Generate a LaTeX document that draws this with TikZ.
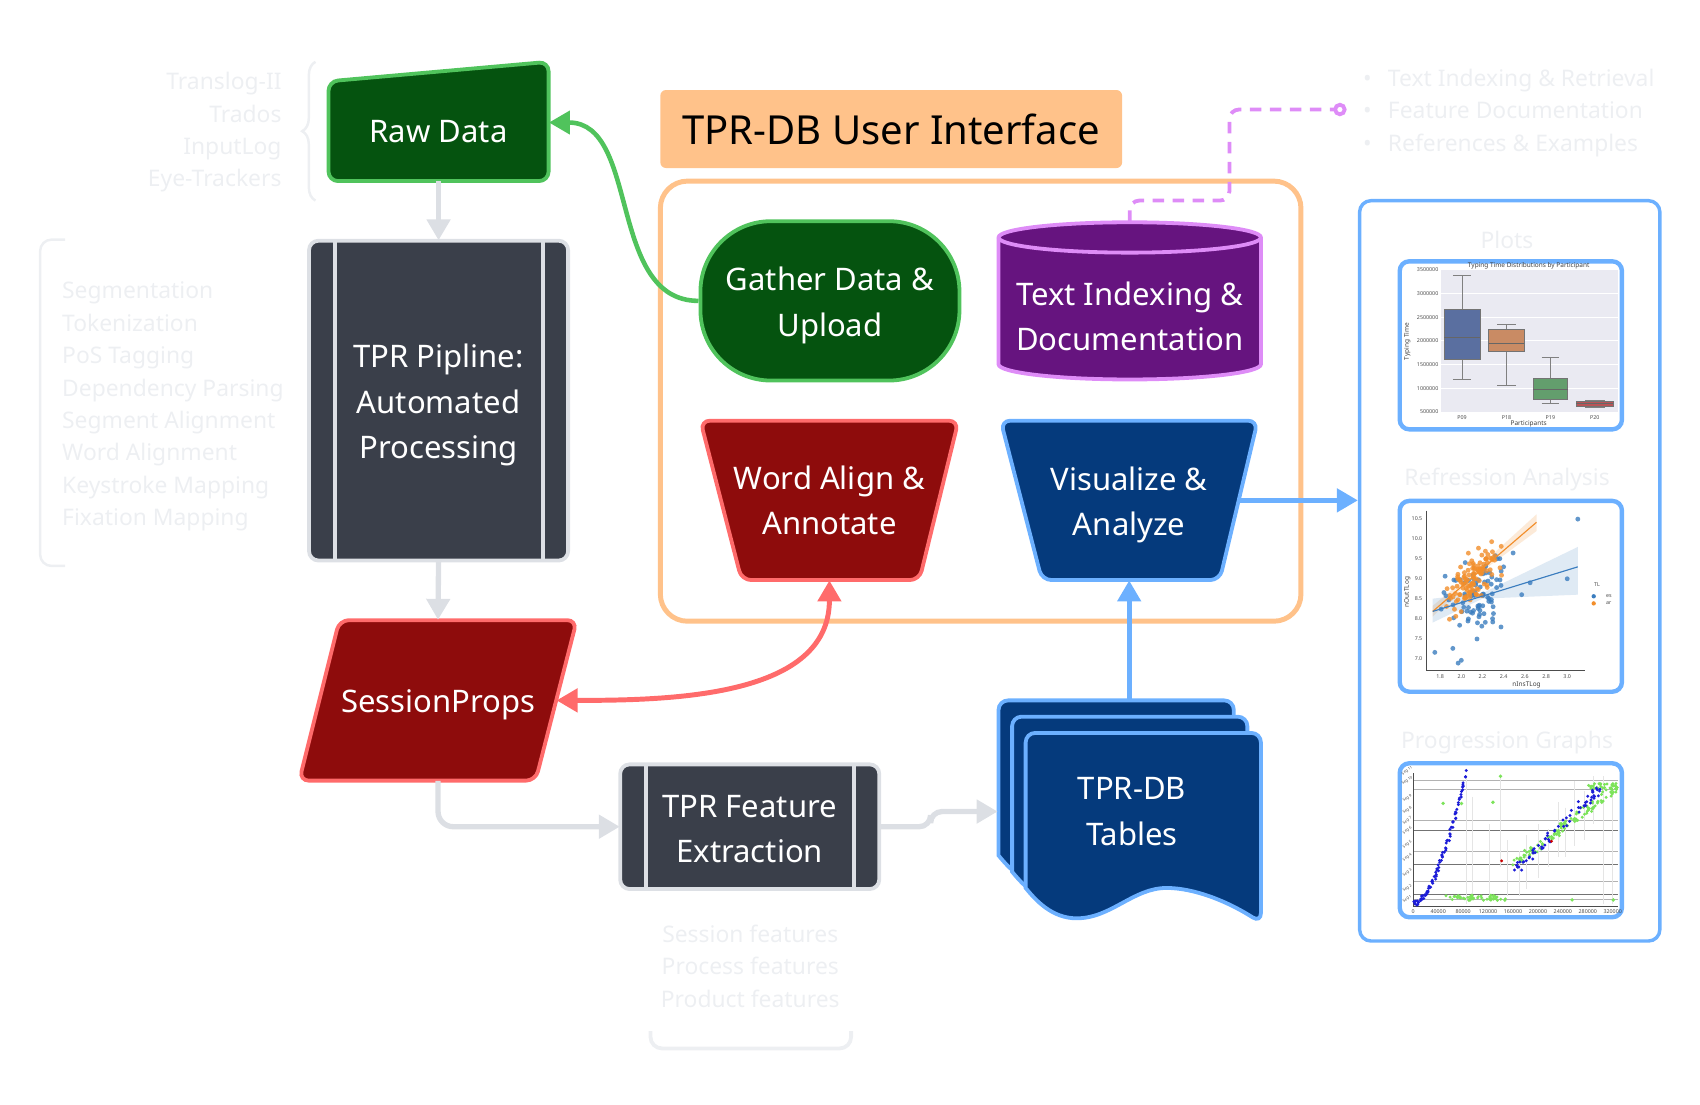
\documentclass[tikz,border=0pt]{standalone}
\usepackage{fontspec}
\setmainfont{Noto Sans}
\usetikzlibrary{arrows.meta, decorations.pathreplacing}

\definecolor{greenfill}{HTML}{05530F}
\definecolor{greenline}{HTML}{50C35C}
\definecolor{redfill}{HTML}{8E0C0C}
\definecolor{redline}{HTML}{FF6B6B}
\definecolor{slatefill}{HTML}{3A3F4A}
\definecolor{slateline}{HTML}{DDE0E5}
\definecolor{bluefill}{HTML}{053A7C}
\definecolor{blueline}{HTML}{6CB0FF}
\definecolor{violetfill}{HTML}{66147F}
\definecolor{violetline}{HTML}{DE8CF7}
\definecolor{peach}{HTML}{FFC28A}
\definecolor{linkgray}{HTML}{DCDFE4}
\definecolor{faintgray}{HTML}{EDEFF2}
\definecolor{plotbg}{HTML}{EAEAF2}
\definecolor{boxblue}{HTML}{5A6FA0}
\definecolor{boxorange}{HTML}{C98B64}
\definecolor{boxgreen}{HTML}{639E6D}
\definecolor{boxred}{HTML}{B85457}
\definecolor{dotblue}{HTML}{3B7DBF}
\definecolor{dotorange}{HTML}{F28E2B}
\definecolor{progblue}{HTML}{1C1CD8}
\definecolor{proggreen}{HTML}{7CE35A}

\tikzset{
  every node/.style={inner sep=0pt},
  flowtext/.style={text=white, align=center, font=\fontsize{16.3}{23.8}\selectfont},
  flowedge/.style={line width=2pt, rounded corners=5},
  faintlist/.style={text=faintgray, font=\fontsize{12}{17}\selectfont},
  graylink/.style={draw=linkgray, line width=2.8pt, ->},
  greenlink/.style={draw=greenline, line width=2.4pt, ->},
  redlink/.style={draw=redline, line width=2.6pt, <->},
  bluelink/.style={draw=blueline, line width=2.6pt, ->},
  docline/.style={draw=violetline, line width=2pt, dash pattern=on 6pt off 4.5pt,
    rounded corners=5, -{Circle[open, length=7pt, width=7pt]}},
  plotframe/.style={draw=blueline, fill=white, line width=2.3pt, rounded corners=5,
    minimum width=4.1cm},
  ticklabel/.style={text=black!70, font=\fontsize{2.8}{3}\selectfont},
  seglabel/.style={text=black!70, font=\fontsize{2}{2.2}\selectfont, rotate=35},
  axislabel/.style={text=black!75, font=\fontsize{3.4}{4}\selectfont},
}

\begin{document}
\begin{tikzpicture}[x=0.02cm, y=-0.02cm, >={Triangle[length=11pt, width=12pt]}]
  \useasboundingbox (0,0) rectangle (1568,1019);

  % Faint side notes.
  \node[faintlist, anchor=east, align=right] (sources) at (260,122)
    {Translog-II\\Trados\\InputLog\\Eye-Trackers};
  \draw[faintgray, line width=1.3pt, decorate, decoration={brace, amplitude=7pt}]
    (291,185) -- (291,57);
  \node[faintlist, anchor=west, align=left] (steps) at (57,375)
    {Segmentation\\Tokenization\\PoS Tagging\\Dependency Parsing\\Segment Alignment\\Word Alignment\\Keystroke Mapping\\Fixation Mapping};
  \draw[faintgray, line width=1.3pt, rounded corners=6] (60,221) -- (37,221) -- (37,522) -- (60,522);
  \node[faintlist, align=center] (features) at (692,891)
    {Session features\\Process features\\Product features};
  \draw[faintgray, line width=2pt, rounded corners=6] (600,951) -- (600,967) -- (785,967) -- (785,951);
  \node[faintlist, anchor=west, align=left] (doclist) at (1257,104)
    {\makebox[13pt][l]{•}Text Indexing \& Retrieval\\
     \makebox[13pt][l]{•}Feature Documentation\\
     \makebox[13pt][l]{•}References \& Examples};

  % User interface frame and title.
  \node[fill=peach, rounded corners=3, minimum width=8.52cm, minimum height=1.44cm,
    font=\fontsize{21}{25}\selectfont] (uititle) at (822,119) {TPR-DB User Interface};
  \node[draw=peach, line width=2.6pt, rounded corners=0.5cm, minimum width=11.82cm,
    minimum height=8.12cm] (ui) at (904.5,370) {};

  % Raw data (manual input).
  \filldraw[fill=greenfill, draw=greenline, flowedge] (303,167) -- (303,75) -- (506,57) -- (506,167) -- cycle;
  \node[flowtext, minimum width=4.06cm, minimum height=1.84cm] (raw) at (404.5,121) {Raw Data};

  % Pipeline (predefined process).
  \filldraw[fill=slatefill, draw=slateline, flowedge] (285,222) rectangle (524,517);
  \draw[slateline, line width=2pt] (309,222) -- (309,517) (501,222) -- (501,517);
  \node[flowtext, minimum width=4.78cm, minimum height=5.9cm] (pipe) at (404.5,369.5)
    {\rule{0pt}{17pt}TPR Pipline:\\Automated\\Processing};

  % Session properties (data).
  \filldraw[fill=redfill, draw=redline, flowedge] (276,720) -- (313,572) -- (532,572) -- (494,720) -- cycle;
  \node[flowtext, minimum width=4.36cm, minimum height=2.96cm] (session) at (404,646)
    {\rule{0pt}{16.5pt}SessionProps};

  % Feature extraction (predefined process).
  \filldraw[fill=slatefill, draw=slateline, flowedge] (572,705) rectangle (811,820);
  \draw[slateline, line width=2pt] (596,705) -- (596,820) (788,705) -- (788,820);
  \node[flowtext, minimum width=4.78cm, minimum height=2.3cm] (feature) at (691.5,762.5)
    {\rule{0pt}{14pt}TPR Feature\\Extraction};

  % Gather data.
  \node[flowtext, fill=greenfill, draw=greenline, line width=2pt, rounded corners=1.3cm,
    minimum width=4.78cm, minimum height=2.94cm] (gather) at (765.5,277.5)
    {\rule{0pt}{17pt}Gather Data \&\\Upload};

  % Text indexing (cylinder).
  \filldraw[fill=violetfill, draw=violetline, line width=2pt]
    (921,219) -- (921,336) arc[start angle=180, end angle=0, x radius=121, y radius=14]
    -- (1163,219) arc[start angle=0, end angle=-180, x radius=121, y radius=14] -- cycle;
  \draw[violetline, line width=2pt] (921,219) arc[start angle=180, end angle=0, x radius=121, y radius=14];
  \node[flowtext, minimum width=4.84cm, minimum height=3.48cm] (textidx) at (1042,292)
    {Text Indexing \&\\Documentation};

  % Word alignment and visualisation (manual operations).
  \filldraw[fill=redfill, draw=redline, flowedge] (646,388) -- (884,388) -- (848,535) -- (684,535) -- cycle;
  \node[flowtext, minimum width=4.0cm, minimum height=2.94cm] (align) at (765,461.5) {Word Align \&\\Annotate};
  \filldraw[fill=bluefill, draw=blueline, flowedge] (923,388) -- (1160,388) -- (1125,535) -- (961,535) -- cycle;
  \node[flowtext, minimum width=4.04cm, minimum height=2.94cm] (visual) at (1041.5,461.5)
    {\rule{0pt}{17pt}Visualize \&\\Analyze};

  % Tables (stacked documents).
  \foreach \dx/\dy in {0/0, 12.5/15, 25/30}
    \filldraw[fill=bluefill, draw=blueline, line width=2pt, shift={(\dx,\dy)}]
      (921,789) [rounded corners=5] -- (921,646) -- (1138,646) -- (1138,821) [sharp corners]
      .. controls (1105,800) and (1075,789) .. (1051,789)
      .. controls (1020,789) and (1000,817) .. (968,817)
      .. controls (945,817) and (930,800) .. (921,789) -- cycle;
  \node[flowtext, minimum width=4.94cm, minimum height=4.1cm] (tables) at (1044,748.5) {TPR-DB\\Tables};

  % Output panel.
  \node[draw=blueline, line width=1.8pt, rounded corners=6, minimum width=5.54cm,
    minimum height=13.66cm] (panel) at (1392.5,526.5) {};
  \node[faintlist] (plotlbl) at (1390,221) {Plots};
  \node[faintlist] (reglbl) at (1390,442) {Refression Analysis};
  \node[faintlist] (proglbl) at (1390,685) {Progression Graphs};

  % Box plot.
  \node[plotframe, minimum height=3.1cm] (boxframe) at (1393.5,318.5) {};
  \fill[plotbg] (1329,249) rectangle (1492,380);
  \begin{scope}[shift={(0,380)}, y=0.874cm, shift={(0,-0.5)}]
    \foreach \val in {1,1.5,2,2.5,3,3.5}
      \draw[white, line width=0.5pt] (1329,\val) -- (1492,\val);
    \foreach \val/\lab in {0.5/500000, 1/1000000, 1.5/1500000, 2/2000000, 2.5/2500000, 3/3000000, 3.5/3500000}
      \node[ticklabel, anchor=east] at (1327,\val) {\lab};
    \foreach \xl/\xr/\lo/\qa/\me/\qb/\hi/\col/\lbl in
      {1332/1365/1.18/1.62/2.08/2.67/3.38/boxblue/P09, 1373/1406/1.07/1.77/1.95/2.25/2.35/boxorange/P18,
       1414/1446/0.67/0.76/0.98/1.22/1.66/boxgreen/P19, 1454/1488/0.60/0.62/0.67/0.73/0.75/boxred/P20}{
      \draw[gray, line width=0.5pt] ({(\xl+\xr)/2},\lo) -- ({(\xl+\xr)/2},\hi);
      \draw[gray, line width=0.5pt] ({\xl+8},\lo) -- ({\xr-8},\lo) ({\xl+8},\hi) -- ({\xr-8},\hi);
      \filldraw[fill=\col, draw=black!55, line width=0.4pt] (\xl,\qa) rectangle (\xr,\qb);
      \draw[black!60, line width=0.5pt] (\xl,\me) -- (\xr,\me);
      \node[ticklabel] at ({(\xl+\xr)/2},0.385) {\lbl};
    }
  \end{scope}
  \node[axislabel] at (1410,245) {Typing Time Distributions by Participant};
  \node[axislabel] at (1410,391) {Participants};
  \node[axislabel, rotate=90] at (1298,315) {Typing Time};

  % Regression plot.
  \node[plotframe, minimum height=3.52cm] (regframe) at (1393.5,550) {};
  \begin{scope}[shift={(1328.3,607.2)}, x=1.954cm, y=0.734cm, shift={(-1.8,-7)}]
    \draw[black!70, line width=0.4pt] (1.674,10.71) -- (1.674,6.706) -- (3.168,6.706);
    \foreach \val in {1.8,2.0,2.2,2.4,2.6,2.8,3.0}
      \node[ticklabel] at (\val,6.53) {\val};
    \foreach \val in {7.0,7.5,8.0,8.5,9.0,9.5,10.0,10.5}
      \node[ticklabel, anchor=east] at (1.635,\val) {\val};
    \node[axislabel] at (2.616,6.33) {nInsTLog};
    \node[axislabel, rotate=90] at (1.49,8.665) {nOutTLog};
    % confidence bands
    \fill[dotorange, opacity=0.18] (1.73,8.05) -- (2.1,9.0) -- (2.71,10.2) -- (2.71,10.62) -- (2.1,9.14) -- (1.73,8.32) -- cycle;
    \fill[dotblue, opacity=0.16] (1.73,7.9) -- (2.2,8.5) -- (3.1,8.6) -- (3.1,9.8) -- (2.2,8.64) -- (1.73,8.5) -- cycle;
    \begin{scope}
      \clip (1.69,6.75) rectangle (3.16,10.7);
      \pgfmathsetseed{11}
      \foreach \i in {1,...,85}{
        \pgfmathsetmacro\ptx{2.14+0.13*(rand+rand+rand)}
        \pgfmathsetmacro\pty{8.2+(\ptx-1.73)*1.0+0.45*(rand+rand+rand)}
        \fill[dotblue, opacity=0.8] (\ptx,\pty) circle[radius=0.045cm];
      }
      \foreach \ptx/\pty in {3.1/10.5, 3.0/9.0, 1.75/7.15, 1.97/6.88, 2.0/6.95, 1.92/7.25, 2.65/8.9, 2.57/8.6}
        \fill[dotblue, opacity=0.8] (\ptx,\pty) circle[radius=0.045cm];
      \foreach \i in {1,...,115}{
        \pgfmathsetmacro\ptx{2.1+0.12*(rand+rand+rand)}
        \pgfmathsetmacro\pty{8.2+(\ptx-1.73)*2.2+0.3*(rand+rand+rand)}
        \fill[dotorange, opacity=0.8] (\ptx,\pty) circle[radius=0.045cm];
      }
    \end{scope}
    \draw[dotorange, line width=0.6pt] (1.73,8.18) -- (2.71,10.42);
    \draw[dotblue, line width=0.6pt] (1.73,8.18) -- (3.1,9.3);
    % legend
    \node[ticklabel] at (3.281,8.842) {TL};
    \fill[dotblue] (3.25,8.56) circle[radius=0.04cm];
    \node[ticklabel, anchor=west] at (3.363,8.56) {es};
    \fill[dotorange] (3.25,8.381) circle[radius=0.04cm];
    \node[ticklabel, anchor=west] at (3.363,8.381) {ar};
  \end{scope}

  % Progression graph.
  \node[plotframe, minimum height=2.84cm] (progframe) at (1393.5,775) {};
  \foreach \yy/\shade in {719.7/30, 728.3/30, 757/30, 766.2/55, 785.2/30, 797.5/55, 812.9/30, 825.2/55, 829.8/30}
    \draw[black!\shade, line width=0.35pt] (1303.5,\yy) -- (1492,\yy);
  \foreach \xx/\ya/\yb in {1352/716/834, 1358/735/830, 1374/760/828, 1384/716/800, 1390/775/826,
      1401/785/826, 1408/770/820, 1419/760/810, 1428/765/800, 1437/740/790, 1444/745/790,
      1452/720/780, 1461/730/775, 1470/716/760, 1479/716/834, 1487/725/834}
    \draw[black!10, line width=0.3pt] (\xx,\ya) -- (\xx,\yb);
  \draw[black!70, line width=0.4pt] (1303.5,713) -- (1303.5,836) -- (1492,836);
  \foreach \lab [count=\k from 0] in {0,40000,80000,120000,160000,200000,240000,280000,320000}
    \node[ticklabel] at ({1303.5+23*\k},841) {\lab};
  \foreach \sg/\yy in {11/711, 10/720, 9/736, 8/747, 7/757, 6/766, 5/779, 4/791, 3/805, 2/819, 1/829}
    \node[seglabel] at (1298,\yy) {Seg \sg};
  \pgfmathsetseed{5}
  \foreach \i in {1,...,90}{
    \pgfmathsetmacro\ptx{1304+48*(\i/90)+1.2*rand}
    \pgfmathsetmacro\pty{834-121*(\i/90)^1.7+2.5*rand}
    \fill[progblue] (\ptx,\pty) circle[radius=0.03cm];
  }
  \foreach \i in {1,...,50}{
    \pgfmathsetmacro\ptx{1333+62*rnd}
    \pgfmathsetmacro\pty{828+2.5*rand}
    \fill[proggreen] (\ptx,\pty) circle[radius=0.03cm];
  }
  \foreach \i in {1,...,120}{
    \pgfmathsetmacro\prog{rnd}
    \pgfmathsetmacro\ptx{1393+97*\prog+2*rand}
    \pgfmathsetmacro\pty{800-74*\prog+5*rand}
    \fill[proggreen] (\ptx,\pty) circle[radius=0.03cm];
  }
  \foreach \i in {1,...,30}{
    \pgfmathsetmacro\ptx{1465+27*rnd}
    \pgfmathsetmacro\pty{725+2.5*rand}
    \fill[proggreen] (\ptx,\pty) circle[radius=0.03cm];
  }
  \foreach \i in {1,...,65}{
    \pgfmathsetmacro\prog{rnd}
    \pgfmathsetmacro\ptx{1398+80*\prog+2*rand}
    \pgfmathsetmacro\pty{802-78*\prog+5*rand}
    \fill[progblue] (\ptx,\pty) circle[radius=0.03cm];
  }
  \foreach \ptx/\pty in {1331/741, 1348/741, 1384/716, 1377/740, 1450/830, 1488/830}
    \fill[proggreen] (\ptx,\pty) circle[radius=0.035cm];
  \foreach \ptx/\pty in {1385/794, 1431/776}
    \fill[red!80!black] (\ptx,\pty) circle[radius=0.03cm];

  % Connectors.
  \draw[graylink] (raw.south) -- (pipe.north);
  \draw[graylink] (pipe.south) -- (session.north);
  \draw[graylink, rounded corners=8] (session.south) |- (feature.west);
  \draw[graylink, rounded corners=6] (feature.east) -- ++(47,0) |- (tables.west);
  \draw[bluelink] (visual.south |- tables.north) -- (visual.south);
  \draw[bluelink] (visual.east) -- (visual.east -| panel.west);
  \draw[greenlink] (gather.west) to[out=180, in=0] ([yshift=0.16cm]raw.east);
  \draw[redlink] (session.east) to[out=0, in=-90] (align.south);
  \coordinate (docnote) at (1242,101);
  \draw[docline] (textidx.north) |- (1134,185) |- (docnote);
\end{tikzpicture}
\end{document}
